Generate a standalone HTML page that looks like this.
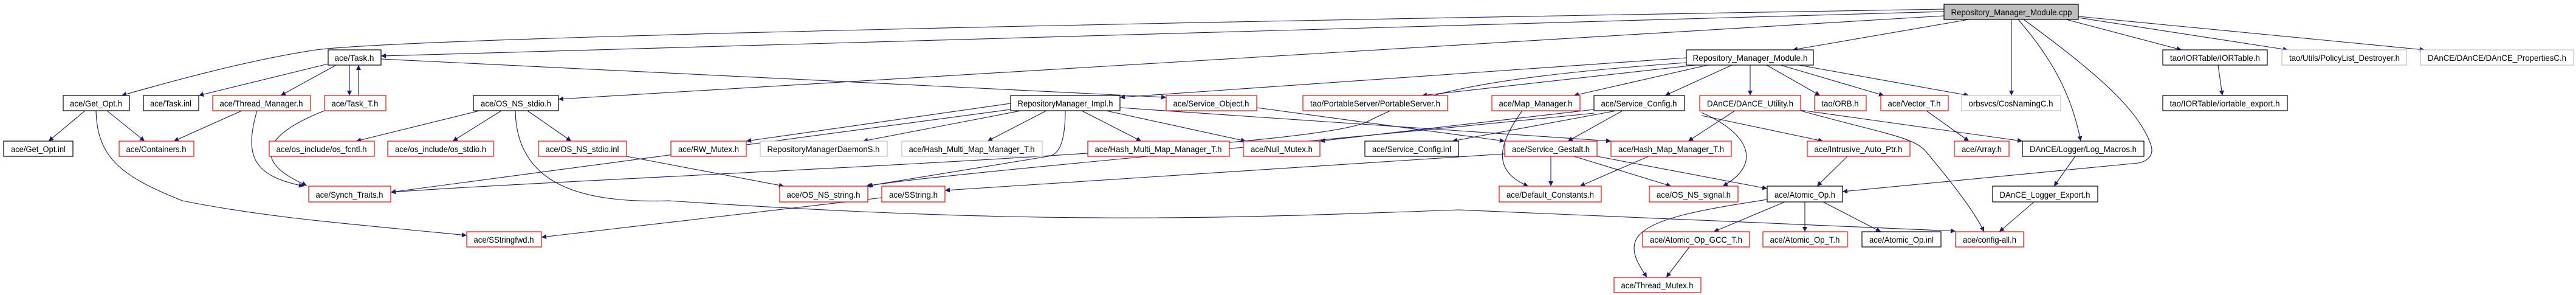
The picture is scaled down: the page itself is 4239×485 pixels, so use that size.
<!DOCTYPE html>
<html><head><meta charset="utf-8"><style>
html,body{margin:0;padding:0;background:#fff;}
svg{display:block}
text{font-family:"Liberation Sans",sans-serif;font-size:14px;fill:#000}
</style></head><body>
<svg width="4239" height="485" viewBox="0 0 4239 485" xmlns="http://www.w3.org/2000/svg">
<defs><marker id="a" viewBox="0 0 10 10" refX="10" refY="5" markerWidth="12" markerHeight="8" markerUnits="userSpaceOnUse" orient="auto"><path d="M0,0 L10,5 L0,10 z" fill="#191970"/></marker></defs>
<g fill="none" stroke="#191970" stroke-width="1.1" marker-end="url(#a)">
<path d="M3240,32 L2950,82"/>
<path d="M3199,19 L627,92"/>
<path d="M3199,15 C2000,35 700,60 520,82 C400,100 260,140 200,157"/>
<path d="M3199,26 L919,163"/>
<path d="M3310,32 L3310,157"/>
<path d="M3321,32 C3380,100 3410,160 3424,232"/>
<path d="M3330,32 C3450,120 3520,180 3540,240 C3545,258 3530,266 3519,268 L3032,315"/>
<path d="M3400,32 L3590,82"/>
<path d="M3420,29 L3765,82"/>
<path d="M3420,27 L3990,82"/>
<path d="M2775,95 L1843,160"/>
<path d="M2790,107 L2340,157"/>
<path d="M2810,107 L2590,157"/>
<path d="M2850,107 L2740,157"/>
<path d="M2880,107 L2880,157"/>
<path d="M2907,107 L2995,157"/>
<path d="M2930,107 L3100,157"/>
<path d="M2960,107 L3240,157"/>
<path d="M2775,103 C2400,130 2330,160 2250,200 C2150,250 1000,290 643,316"/>
<path d="M540,105 L327,157"/>
<path d="M553,107 L462,157"/>
<path d="M575,107 L575,157"/>
<path d="M590,157 L590,107"/>
<path d="M627,97 L1919,160"/>
<path d="M534,182 C450,215 400,260 505,305"/>
<path d="M423,182 C400,260 420,290 500,306"/>
<path d="M398,182 L286,232"/>
<path d="M140,182 L80,232"/>
<path d="M176,182 L238,232"/>
<path d="M158,182 C160,260 200,290 300,330 C450,360 600,370 768,387"/>
<path d="M789,182 L586,232"/>
<path d="M825,182 L745,232"/>
<path d="M868,182 L940,232"/>
<path d="M848,182 C850,300 950,335 1100,330 C1700,370 2000,360 2400,345 L3218,380"/>
<path d="M1031,257 L1290,306"/>
<path d="M1680,182 L1420,232"/>
<path d="M1722,182 L1625,232"/>
<path d="M1780,182 L1878,232"/>
<path d="M1820,182 L2050,232"/>
<path d="M1753,182 C1753,240 1740,255 1725,257 L1425,306"/>
<path d="M1663,180 L643,316"/>
<path d="M1663,170 L1228,232"/>
<path d="M1843,177 L2651,232"/>
<path d="M2068,177 L2476,232"/>
<path d="M2505,182 C2470,230 2450,280 2515,306"/>
<path d="M2660,182 L2390,232"/>
<path d="M2670,182 L2580,232"/>
<path d="M2623,180 L2172,232"/>
<path d="M2623,186 C2200,230 1500,290 1428,306"/>
<path d="M2552,257 L2552,306"/>
<path d="M2590,257 L2750,306"/>
<path d="M2628,257 L2908,310"/>
<path d="M2476,253 L1555,313"/>
<path d="M2713,257 L2600,306"/>
<path d="M2855,182 L2778,232"/>
<path d="M2800,190 L3000,232"/>
<path d="M2963,181 L3328,232"/>
<path d="M2963,182 C3100,220 3150,225 3170,250 C3220,310 3250,350 3265,381"/>
<path d="M2800,185 C2880,220 2900,270 2835,306"/>
<path d="M3170,182 L3240,232"/>
<path d="M3040,257 L2990,306"/>
<path d="M3415,257 L3380,306"/>
<path d="M3347,332 L3290,381"/>
<path d="M2937,332 L2820,381"/>
<path d="M2970,332 L2970,381"/>
<path d="M3000,332 L3095,381"/>
<path d="M2908,328 C2800,345 2700,360 2690,400 C2685,420 2700,440 2710,456"/>
<path d="M2780,406 L2742,456"/>
<path d="M1451,325 L891,390"/>
<path d="M3650,107 L3657,157"/>
</g>
<g stroke-width="1.2" fill="#fff">
<rect x="3199" y="7" width="221" height="25" fill="#bfbfbf" stroke="#000"/>
<rect x="540" y="82" width="87" height="25" stroke="#000"/>
<rect x="2775" y="82" width="209" height="25" stroke="#000"/>
<rect x="3559" y="82" width="172" height="25" stroke="#000"/>
<rect x="3755" y="82" width="205" height="25" stroke="#bfbfbf"/>
<rect x="3983" y="82" width="252" height="25" stroke="#bfbfbf"/>
<rect x="104" y="157" width="109" height="25" stroke="#000"/>
<rect x="236" y="157" width="91" height="25" stroke="#000"/>
<rect x="350" y="157" width="161" height="25" stroke="#f00"/>
<rect x="534" y="157" width="101" height="25" stroke="#f00"/>
<rect x="779" y="157" width="140" height="25" stroke="#000"/>
<rect x="1663" y="157" width="180" height="25" stroke="#000"/>
<rect x="1919" y="157" width="149" height="25" stroke="#f00"/>
<rect x="2144" y="157" width="238" height="25" stroke="#f00"/>
<rect x="2455" y="157" width="145" height="25" stroke="#f00"/>
<rect x="2623" y="157" width="149" height="25" stroke="#000"/>
<rect x="2797" y="157" width="166" height="25" stroke="#f00"/>
<rect x="2986" y="157" width="85" height="25" stroke="#f00"/>
<rect x="3095" y="157" width="111" height="25" stroke="#f00"/>
<rect x="3228" y="157" width="163" height="25" stroke="#bfbfbf"/>
<rect x="3559" y="157" width="205" height="25" stroke="#000"/>
<rect x="6" y="232" width="114" height="25" stroke="#000"/>
<rect x="196" y="232" width="123" height="25" stroke="#f00"/>
<rect x="443" y="232" width="173" height="25" stroke="#f00"/>
<rect x="638" y="232" width="174" height="25" stroke="#f00"/>
<rect x="886" y="232" width="145" height="25" stroke="#f00"/>
<rect x="1104" y="232" width="124" height="25" stroke="#f00"/>
<rect x="1251" y="232" width="209" height="25" stroke="#bfbfbf"/>
<rect x="1484" y="232" width="231" height="25" stroke="#bfbfbf"/>
<rect x="1790" y="232" width="233" height="25" stroke="#f00"/>
<rect x="2046" y="232" width="126" height="25" stroke="#f00"/>
<rect x="2246" y="232" width="154" height="25" stroke="#000"/>
<rect x="2476" y="232" width="152" height="25" stroke="#f00"/>
<rect x="2651" y="232" width="198" height="25" stroke="#f00"/>
<rect x="2974" y="232" width="169" height="25" stroke="#f00"/>
<rect x="3216" y="232" width="90" height="25" stroke="#f00"/>
<rect x="3328" y="232" width="200" height="25" stroke="#000"/>
<rect x="508" y="306" width="135" height="26" stroke="#f00"/>
<rect x="1283" y="306" width="145" height="26" stroke="#f00"/>
<rect x="1451" y="306" width="104" height="26" stroke="#f00"/>
<rect x="2467" y="306" width="168" height="26" stroke="#f00"/>
<rect x="2714" y="306" width="146" height="26" stroke="#f00"/>
<rect x="2908" y="306" width="124" height="26" stroke="#000"/>
<rect x="3279" y="306" width="173" height="26" stroke="#000"/>
<rect x="768" y="381" width="123" height="25" stroke="#f00"/>
<rect x="2703" y="381" width="176" height="25" stroke="#f00"/>
<rect x="2901" y="381" width="139" height="25" stroke="#f00"/>
<rect x="3064" y="381" width="130" height="25" stroke="#000"/>
<rect x="3218" y="381" width="112" height="25" stroke="#f00"/>
<rect x="2656" y="456" width="143" height="25" stroke="#f00"/>
</g>
<g text-anchor="middle" lengthAdjust="spacingAndGlyphs">
<text x="3310" y="25" textLength="199" lengthAdjust="spacingAndGlyphs">Repository_Manager_Module.cpp</text>
<text x="583" y="100" textLength="65" lengthAdjust="spacingAndGlyphs">ace/Task.h</text>
<text x="2880" y="100" textLength="189" lengthAdjust="spacingAndGlyphs">Repository_Manager_Module.h</text>
<text x="3645" y="100" textLength="148" lengthAdjust="spacingAndGlyphs">tao/IORTable/IORTable.h</text>
<text x="3858" y="100" textLength="182" lengthAdjust="spacingAndGlyphs">tao/Utils/PolicyList_Destroyer.h</text>
<text x="4109" y="100" textLength="228" lengthAdjust="spacingAndGlyphs">DAnCE/DAnCE/DAnCE_PropertiesC.h</text>
<text x="158" y="175" textLength="86" lengthAdjust="spacingAndGlyphs">ace/Get_Opt.h</text>
<text x="281" y="175" textLength="68" lengthAdjust="spacingAndGlyphs">ace/Task.inl</text>
<text x="430" y="175" textLength="137" lengthAdjust="spacingAndGlyphs">ace/Thread_Manager.h</text>
<text x="584" y="175" textLength="77" lengthAdjust="spacingAndGlyphs">ace/Task_T.h</text>
<text x="849" y="175" textLength="116" lengthAdjust="spacingAndGlyphs">ace/OS_NS_stdio.h</text>
<text x="1753" y="175" textLength="157" lengthAdjust="spacingAndGlyphs">RepositoryManager_Impl.h</text>
<text x="1993" y="175" textLength="125" lengthAdjust="spacingAndGlyphs">ace/Service_Object.h</text>
<text x="2263" y="175" textLength="214" lengthAdjust="spacingAndGlyphs">tao/PortableServer/PortableServer.h</text>
<text x="2527" y="175" textLength="121" lengthAdjust="spacingAndGlyphs">ace/Map_Manager.h</text>
<text x="2697" y="175" textLength="125" lengthAdjust="spacingAndGlyphs">ace/Service_Config.h</text>
<text x="2880" y="175" textLength="142" lengthAdjust="spacingAndGlyphs">DAnCE/DAnCE_Utility.h</text>
<text x="3028" y="175" textLength="61" lengthAdjust="spacingAndGlyphs">tao/ORB.h</text>
<text x="3150" y="175" textLength="87" lengthAdjust="spacingAndGlyphs">ace/Vector_T.h</text>
<text x="3309" y="175" textLength="139" lengthAdjust="spacingAndGlyphs">orbsvcs/CosNamingC.h</text>
<text x="3661" y="175" textLength="181" lengthAdjust="spacingAndGlyphs">tao/IORTable/iortable_export.h</text>
<text x="63" y="250" textLength="90" lengthAdjust="spacingAndGlyphs">ace/Get_Opt.inl</text>
<text x="257" y="250" textLength="99" lengthAdjust="spacingAndGlyphs">ace/Containers.h</text>
<text x="529" y="250" textLength="149" lengthAdjust="spacingAndGlyphs">ace/os_include/os_fcntl.h</text>
<text x="725" y="250" textLength="150" lengthAdjust="spacingAndGlyphs">ace/os_include/os_stdio.h</text>
<text x="958" y="250" textLength="121" lengthAdjust="spacingAndGlyphs">ace/OS_NS_stdio.inl</text>
<text x="1166" y="250" textLength="100" lengthAdjust="spacingAndGlyphs">ace/RW_Mutex.h</text>
<text x="1355" y="250" textLength="185" lengthAdjust="spacingAndGlyphs">RepositoryManagerDaemonS.h</text>
<text x="1599" y="250" textLength="207" lengthAdjust="spacingAndGlyphs">ace/Hash_Multi_Map_Manager_T.h</text>
<text x="1906" y="250" textLength="209" lengthAdjust="spacingAndGlyphs">ace/Hash_Multi_Map_Manager_T.h</text>
<text x="2109" y="250" textLength="102" lengthAdjust="spacingAndGlyphs">ace/Null_Mutex.h</text>
<text x="2323" y="250" textLength="130" lengthAdjust="spacingAndGlyphs">ace/Service_Config.inl</text>
<text x="2552" y="250" textLength="128" lengthAdjust="spacingAndGlyphs">ace/Service_Gestalt.h</text>
<text x="2750" y="250" textLength="174" lengthAdjust="spacingAndGlyphs">ace/Hash_Map_Manager_T.h</text>
<text x="3058" y="250" textLength="145" lengthAdjust="spacingAndGlyphs">ace/Intrusive_Auto_Ptr.h</text>
<text x="3261" y="250" textLength="66" lengthAdjust="spacingAndGlyphs">ace/Array.h</text>
<text x="3428" y="250" textLength="176" lengthAdjust="spacingAndGlyphs">DAnCE/Logger/Log_Macros.h</text>
<text x="575" y="325" textLength="111" lengthAdjust="spacingAndGlyphs">ace/Synch_Traits.h</text>
<text x="1355" y="325" textLength="121" lengthAdjust="spacingAndGlyphs">ace/OS_NS_string.h</text>
<text x="1503" y="325" textLength="80" lengthAdjust="spacingAndGlyphs">ace/SString.h</text>
<text x="2551" y="325" textLength="144" lengthAdjust="spacingAndGlyphs">ace/Default_Constants.h</text>
<text x="2787" y="325" textLength="122" lengthAdjust="spacingAndGlyphs">ace/OS_NS_signal.h</text>
<text x="2970" y="325" textLength="100" lengthAdjust="spacingAndGlyphs">ace/Atomic_Op.h</text>
<text x="3365" y="325" textLength="149" lengthAdjust="spacingAndGlyphs">DAnCE_Logger_Export.h</text>
<text x="829" y="399" textLength="99" lengthAdjust="spacingAndGlyphs">ace/SStringfwd.h</text>
<text x="2791" y="399" textLength="152" lengthAdjust="spacingAndGlyphs">ace/Atomic_Op_GCC_T.h</text>
<text x="2970" y="399" textLength="115" lengthAdjust="spacingAndGlyphs">ace/Atomic_Op_T.h</text>
<text x="3129" y="399" textLength="106" lengthAdjust="spacingAndGlyphs">ace/Atomic_Op.inl</text>
<text x="3274" y="399" textLength="88" lengthAdjust="spacingAndGlyphs">ace/config-all.h</text>
<text x="2727" y="474" textLength="119" lengthAdjust="spacingAndGlyphs">ace/Thread_Mutex.h</text>
</g>
</svg>
</body></html>
